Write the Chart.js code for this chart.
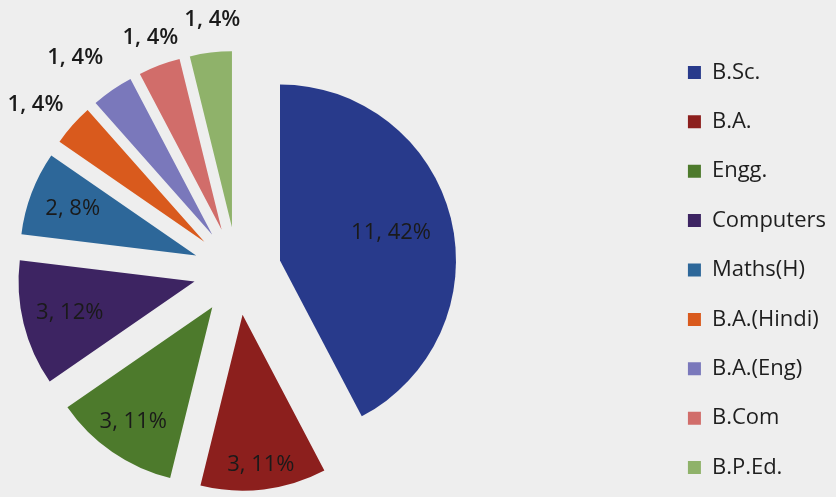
<!DOCTYPE html>
<html>
<head>
<meta charset="utf-8">
<script src="https://cdn.jsdelivr.net/npm/chart.js@4/dist/chart.umd.min.js"></script>
<style>
  html, body { margin: 0; padding: 0; background: #eeeeee; overflow: hidden; }
  #page { width: 836px; height: 497px; position: relative; overflow: hidden; }
  /* canvas reaches past the left edge so the pie sits left of centre */
  #wrap { position: absolute; left: -186px; top: 0; width: 1022px; height: 508px; }
</style>
</head>
<body>
<div id="page"><div id="wrap"><canvas id="courseChart"></canvas></div></div>
<script>
const courses = ['B.Sc.', 'B.A.', 'Engg.', 'Computers', 'Maths(H)', 'B.A.(Hindi)', 'B.A.(Eng)', 'B.Com', 'B.P.Ed.'];
const students = [11, 3, 3, 3, 2, 1, 1, 1, 1];
const percentLabels = ['42%', '11%', '11%', '12%', '8%', '4%', '4%', '4%', '4%'];
const sliceColors = ['#283a8b', '#8c1f1d', '#4d7a2c', '#3d2462', '#2d6799', '#d95a1d', '#7a78bb', '#d16d6a', '#8fb26a'];

// pulls every slice out along its middle angle by the same distance,
// keeping one radius for all of them (the built-in offset grows small slices)
const explode = {
    id: 'explode',
    beforeDatasetsDraw(chart, args, opts) {
        chart.getDatasetMeta(0).data.forEach(arc => {
            if (arc.$exploded) return;
            const baseDraw = arc.draw;
            arc.draw = function (ctx, area) {
                const mid = (this.startAngle + this.endAngle) / 2;
                ctx.save();
                ctx.translate(Math.cos(mid) * opts.distance, Math.sin(mid) * opts.distance);
                baseDraw.call(this, ctx, area);
                ctx.restore();
            };
            arc.$exploded = true;
        });
    }
};

// writes "value, percent" on each slice; small slices get theirs outside
const sliceLabels = {
    id: 'sliceLabels',
    afterDatasetsDraw(chart, args, opts) {
        const ctx = chart.ctx;
        const meta = chart.getDatasetMeta(0);
        const shift = chart.options.plugins.explode.distance;
        ctx.save();
        ctx.fillStyle = opts.color;
        ctx.textAlign = 'center';
        ctx.textBaseline = 'middle';
        meta.data.forEach((arc, i) => {
            const p = arc.getProps(['x', 'y', 'startAngle', 'endAngle', 'outerRadius'], true);
            const mid = (p.startAngle + p.endAngle) / 2;
            const cx = p.x + Math.cos(mid) * shift;
            const cy = p.y + Math.sin(mid) * shift;
            const ang = mid + opts.turn[i] * Math.PI / 180;
            const dist = opts.radius[i] * p.outerRadius;
            ctx.font = students[i] > 1 ? opts.font : opts.outsideFont;
            ctx.fillText(students[i] + ', ' + percentLabels[i],
                cx + Math.cos(ang) * dist, cy + Math.sin(ang) * dist);
        });
        ctx.restore();
    }
};

const ctx = document.getElementById('courseChart').getContext('2d');
new Chart(ctx, {
    type: 'pie',
    data: {
        labels: courses,
        datasets: [{
            data: students,
            backgroundColor: sliceColors,
            borderWidth: 0,
            hoverOffset: 0
        }]
    },
    options: {
        responsive: true,
        maintainAspectRatio: false,
        animation: false,
        radius: 176,
        layout: {
            padding: { left: 0, right: 0, top: 34, bottom: 0 }
        },
        plugins: {
            tooltip: { enabled: false },
            legend: {
                position: 'right',
                align: 'start',
                labels: {
                    boxWidth: 13,
                    boxHeight: 13,
                    padding: 27.4,
                    color: '#1e1e1e',
                    font: { family: 'Open Sans', size: 22 }
                }
            },
            explode: { distance: 44 },
            sliceLabels: {
                font: '22px "Open Sans"',
                outsideFont: '600 22px "Open Sans"',
                color: '#1a1a1a',
                radius: [0.65, 0.86, 0.79, 0.73, 0.75, 1.235, 1.27, 1.163, 1.183],
                turn: [0, 0, 0, 0, 0, -2.5, -3.2, 0.4, 1.5]
            }
        }
    },
    plugins: [explode, sliceLabels]
});
</script>
</body>
</html>
